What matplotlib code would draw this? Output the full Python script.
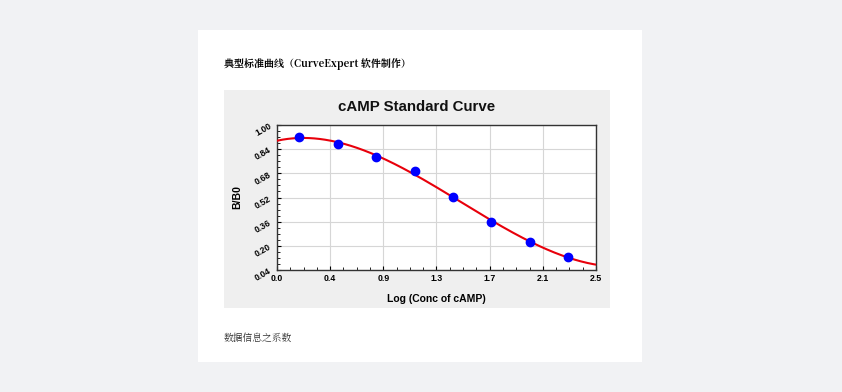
import numpy as np
import matplotlib.pyplot as plt
from matplotlib.patches import Rectangle

plt.rcParams['font.family'] = ['Liberation Sans', 'Noto Sans CJK SC', 'DejaVu Sans']

# Datos del estándar (log de concentración vs B/B0)
log_conc = [0.176, 0.477, 0.778, 1.079, 1.380, 1.681, 1.982, 2.283]
b_b0 = [0.921, 0.874, 0.788, 0.695, 0.523, 0.358, 0.225, 0.126]

x_ticks = [0.0, 0.4167, 0.8333, 1.25, 1.6667, 2.0833, 2.5]
x_labels = ['0.0', '0.4', '0.9', '1.3', '1.7', '2.1', '2.5']
y_ticks = [0.04, 0.20, 0.36, 0.52, 0.68, 0.84, 1.00]
y_labels = ['0.04', '0.20', '0.36', '0.52', '0.68', '0.84', '1.00']

titulo = '典型标准曲线（CurveExpert 软件制作）'
titulo_grafico = 'cAMP Standard Curve'
pie = '数据信息之系数'

W, H = 842, 392
fig = plt.figure(figsize=(W / 100, H / 100), dpi=100)
fig.patch.set_facecolor('#f1f2f4')

def caja(x0, y0, x1, y1, color):
    # rectángulo en píxeles (origen arriba a la izquierda)
    fig.patches.append(Rectangle((x0 / W, 1 - y1 / H), (x1 - x0) / W, (y1 - y0) / H,
                                 transform=fig.transFigure, facecolor=color,
                                 edgecolor='none', zorder=-10))

caja(198, 30, 642, 362, 'white')
caja(224, 90, 610, 308, '#efefef')

fig.text(224 / W, 1 - 64 / H, titulo, fontsize=7.2, fontweight='heavy',
         family=['Noto Serif CJK SC', 'Noto Sans CJK SC', 'DejaVu Sans'],
         ha='left', va='center', color='#000000')
fig.text(224 / W, 1 - 338 / H, pie, fontsize=7, color='#333333',
         family=['Noto Serif CJK SC', 'Noto Sans CJK SC', 'DejaVu Sans'],
         ha='left', va='center')

# título centrado sobre la caja gris
fig.text(417 / W, 1 - 107 / H, titulo_grafico, fontsize=10.8, fontweight='bold',
         ha='center', va='center', color='#111111')

ax = fig.add_axes([277 / W, 1 - 270 / H, (596 - 277) / W, (270 - 125) / H])
ax.set_zorder(5)
ax.set_facecolor('white')

# Curva ajustada (polinomio cúbico sobre los puntos)
coef = np.polyfit(log_conc, b_b0, 3)
xs = np.linspace(0, 2.5, 300)
ax.plot(xs, np.polyval(coef, xs), color='#e8000b', lw=1.5, zorder=3)
ax.plot(log_conc, b_b0, 'o', color='#0000ff', markersize=6, zorder=4)

ax.set_xlim(0, 2.5)
ax.set_ylim(0.04, 1.00)
ax.set_xticks(x_ticks)
ax.set_xticklabels(x_labels)
ax.set_yticks(y_ticks)
ax.set_yticklabels(y_labels, rotation=30)
ax.set_xticks(np.linspace(0, 2.5, 25), minor=True)
ax.set_yticks(np.linspace(0.04, 1.0, 25), minor=True)
ax.grid(True, which='major', color='#d6d6d6', lw=0.8)
ax.tick_params(which='major', length=3, width=0.8, labelsize=6.3, pad=3, direction='in')
ax.tick_params(which='minor', length=2, width=0.6, direction='in')
for lab in ax.get_xticklabels() + ax.get_yticklabels():
    lab.set_fontweight('bold')
for s in ax.spines.values():
    s.set_color('#333333')
    s.set_linewidth(1.0)

ax.set_xlabel('Log (Conc of cAMP)', fontsize=7.5, fontweight='bold', labelpad=8)
ax.set_ylabel('B/B0', fontsize=7.5, fontweight='bold', labelpad=8)

fig.savefig('out.png', dpi=100, facecolor=fig.get_facecolor())
